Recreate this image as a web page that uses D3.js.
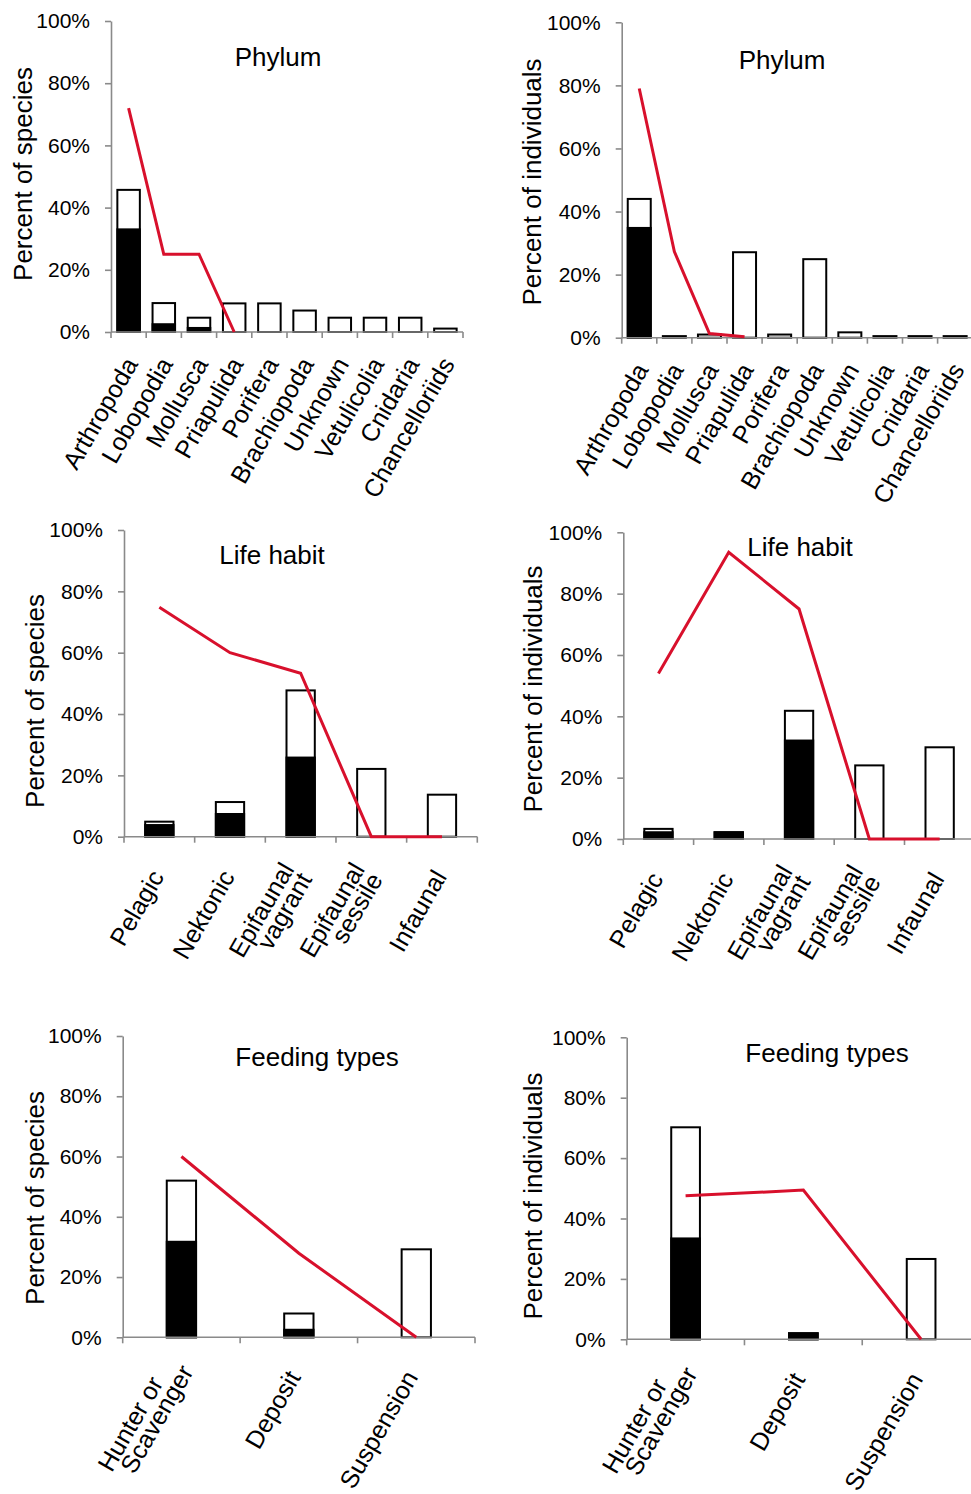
<!DOCTYPE html>
<html><head><meta charset="utf-8">
<script src="https://cdn.jsdelivr.net/npm/d3@7"></script>
<style>
body{margin:0;background:#fff}
svg{display:block}
text{font-family:"Liberation Sans",Arial,sans-serif;fill:#000}
</style>
</head><body><svg id="c" width="971" height="1494"></svg>
<script>
// ---------- data ----------
const yTicks = [0, 20, 40, 60, 80, 100];

const phylumCats = ["Arthropoda","Lobopodia","Mollusca","Priapulida","Porifera","Brachiopoda","Unknown","Vetulicolia","Cnidaria","Chancelloriids"];
const phylumSpeciesTotal = [45.7, 9.3, 4.6, 9.2, 9.2, 6.9, 4.6, 4.6, 4.6, 1.1];
const phylumSpeciesBlack = [33.0, 2.5, 1.3, 0, 0, 0, 0, 0, 0, 0];
const phylumSpeciesLine  = [72, 25, 25, 0];
const phylumIndivTotal = [44.0, 0.5, 1.0, 27.1, 1.0, 24.9, 1.7, 0.5, 0.5, 0.5];
const phylumIndivBlack = [34.8, 0, 0, 0, 0, 0, 0, 0, 0, 0];
const phylumIndivLine  = [79, 27.3, 1.3, 0.3];

const lifeCats = [["Pelagic"],["Nektonic"],["Epifaunal","vagrant"],["Epifaunal","sessile"],["Infaunal"]];
const lifeSpeciesTotal = [4.9, 11.3, 47.7, 22.1, 13.7];
const lifeSpeciesBlack = [3.8, 7.4, 25.8, 0, 0];
const lifeSpeciesLine  = [74.8, 60, 53.3, 0, 0];
const lifeIndivTotal = [3.3, 2.2, 41.8, 24.0, 29.9];
const lifeIndivBlack = [2.2, 2.2, 32.1, 0, 0];
const lifeIndivLine  = [54, 93.5, 75, 0, 0];

const feedCats = [["Hunter or","Scavenger"],["Deposit"],["Suspension"]];
const feedSpeciesTotal = [52.0, 7.9, 29.2];
const feedSpeciesBlack = [31.7, 2.5, 0];
const feedSpeciesLine  = [60, 27.9, 0];
const feedIndivTotal = [70.2, 2.0, 26.6];
const feedIndivBlack = [33.4, 2.0, 0];
const feedIndivLine  = [47.5, 49.4, 0];

// ---------- layout ----------
const mlLife = {fwd: 1, shift: 0, lh: 20.5, down: 7};
const mlFeed = {fwd: 10, shift: -25, lh: 20.5, down: 6};
const panels = [
  {cats: phylumCats.map(d=>[d]), total: phylumSpeciesTotal, black: phylumSpeciesBlack, line: phylumSpeciesLine,
   title:"Phylum", ylab:"Percent of species", x0:111, x1:463, y0:332, y1:21, bw:22.5,
   tx:278, ty:57, yx:23, yy:174, ldx:10, ldy:32, ml: mlLife},
  {cats: phylumCats.map(d=>[d]), total: phylumIndivTotal, black: phylumIndivBlack, line: phylumIndivLine,
   title:"Phylum", ylab:"Percent of individuals", x0:621.7, x1:972.7, y0:337.7, y1:22.3, bw:23,
   tx:782, ty:60, yx:532, yy:182, ldx:10, ldy:32, ml: mlLife},
  {cats: lifeCats, total: lifeSpeciesTotal, black: lifeSpeciesBlack, line: lifeSpeciesLine,
   title:"Life habit", ylab:"Percent of species", x0:124, x1:477.3, y0:836.7, y1:530, bw:28.3,
   tx:272, ty:555, yx:35, yy:701, ldx:5.5, ldy:40, ml: mlLife},
  {cats: lifeCats, total: lifeIndivTotal, black: lifeIndivBlack, line: lifeIndivLine,
   title:"Life habit", ylab:"Percent of individuals", x0:623.3, x1:974.8, y0:839, y1:532.3, bw:28.3,
   tx:800, ty:547, yx:533, yy:689, ldx:5.5, ldy:40, ml: mlLife},
  {cats: feedCats, total: feedSpeciesTotal, black: feedSpeciesBlack, line: feedSpeciesLine,
   title:"Feeding types", ylab:"Percent of species", x0:122.7, x1:475, y0:1337.3, y1:1036, bw:29.3,
   tx:317, ty:1057, yx:35, yy:1198, ldx:2.5, ldy:40, ml: mlFeed},
  {cats: feedCats, total: feedIndivTotal, black: feedIndivBlack, line: feedIndivLine,
   title:"Feeding types", ylab:"Percent of individuals", x0:626.7, x1:980, y0:1339.3, y1:1037.3, bw:28.7,
   tx:827, ty:1053, yx:533, yy:1196, ldx:2.5, ldy:40, ml: mlFeed}
];

const AXIS = "#8a8a8a", RED = "#d8102c";
const svg = d3.select("#c");

panels.forEach(p => {
  const g = svg.append("g");
  const keys = p.cats.map(c => c.join(" "));
  const x = d3.scaleBand().domain(keys).range([p.x0, p.x1]).padding(0);
  const y = d3.scaleLinear().domain([0, 100]).range([p.y0, p.y1]);
  const cx = i => x(keys[i]) + x.bandwidth() / 2;

  // y axis
  const ya = g.append("g").attr("transform", `translate(${p.x0},0)`)
    .call(d3.axisLeft(y).tickValues(yTicks).tickFormat(d => d + "%").tickSize(6).tickSizeOuter(0).tickPadding(15));
  ya.select(".domain").attr("stroke", AXIS).attr("stroke-width", 1.6);
  ya.selectAll(".tick line").attr("stroke", AXIS).attr("stroke-width", 1.6);
  ya.selectAll(".tick text").attr("font-size", 21).attr("fill", "#111")
    .attr("font-family", '"Liberation Sans",Arial,sans-serif');

  // bars
  p.total.forEach((v, i) => {
    g.append("rect").attr("x", cx(i) - p.bw / 2).attr("width", p.bw)
      .attr("y", y(v)).attr("height", y(0) - y(v))
      .attr("fill", "#fff").attr("stroke", "#000").attr("stroke-width", 2);
    const b = p.black[i];
    if (b > 0) {
      g.append("rect").attr("x", cx(i) - p.bw / 2).attr("width", p.bw)
        .attr("y", y(b)).attr("height", y(0) - y(b))
        .attr("fill", "#000").attr("stroke", "#000").attr("stroke-width", 2);
    }
  });

  // x axis
  g.append("line").attr("x1", p.x0).attr("x2", p.x1).attr("y1", p.y0).attr("y2", p.y0)
    .attr("stroke", AXIS).attr("stroke-width", 1.6);
  const bounds = keys.map(k => x(k)).concat([p.x1]);
  g.selectAll(null).data(bounds).enter().append("line")
    .attr("x1", d => d).attr("x2", d => d).attr("y1", p.y0).attr("y2", p.y0 + 6)
    .attr("stroke", AXIS).attr("stroke-width", 1.6);

  // red line
  g.append("path").datum(p.line)
    .attr("d", d3.line().x((d, i) => cx(i)).y(d => y(d)))
    .attr("fill", "none").attr("stroke", RED).attr("stroke-width", 3).attr("stroke-linejoin", "miter");

  // category labels
  p.cats.forEach((lines, i) => {
    const t = g.append("text")
      .attr("transform", `translate(${cx(i) + p.ldx},${p.y0 + p.ldy}) rotate(-60)`)
      .attr("text-anchor", "end").attr("font-size", 25);
    const n = lines.length;
    lines.forEach((ln, j) => {
      let xx = 0, yy = 0;
      if (n > 1) {
        yy = p.ml.down - (n - 1 - j) * p.ml.lh;
        xx = p.ml.fwd + (j < n - 1 ? p.ml.shift : 0);
      }
      t.append("tspan").attr("x", xx).attr("y", yy).text(ln);
    });
  });

  // title
  g.append("text").attr("x", p.tx).attr("y", p.ty).attr("text-anchor", "middle")
    .attr("dominant-baseline", "central").attr("font-size", 26).text(p.title);

  // y axis title
  g.append("text").attr("transform", `translate(${p.yx},${p.yy}) rotate(-90)`)
    .attr("text-anchor", "middle").attr("dominant-baseline", "central")
    .attr("font-size", 26).text(p.ylab);
});
</script>
</body></html>
